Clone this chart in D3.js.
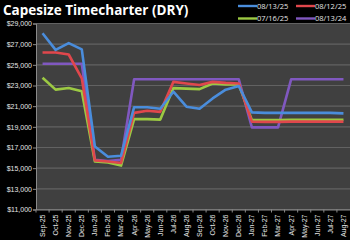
<!DOCTYPE html>
<html>
<head>
<meta charset="utf-8">
<script src="https://cdn.jsdelivr.net/npm/d3@7"></script>
<style>
  html, body { margin: 0; padding: 0; background: #000; }
  svg { display: block; font-family: "Open Sans", "Liberation Sans", sans-serif; }
</style>
</head>
<body>
<div id="chart"></div>
<script>
var months = ["Sep-25","Oct-25","Nov-25","Dec-25","Jan-26","Feb-26","Mar-26","Apr-26","May-26","Jun-26","Jul-26","Aug-26",
  "Sep-26","Oct-26","Nov-26","Dec-26","Jan-27","Feb-27","Mar-27","Apr-27","May-27","Jun-27","Jul-27","Aug-27"];

var s081325 = [28050,26450,27100,26500,17100,16100,16200,20900,20900,20750,22400,20950,20750,21750,22600,22950,20400,20350,20350,20350,20350,20350,20350,20300];
var s081225 = [26200,26200,26000,23700,15750,15650,15500,20350,20550,20450,23350,23200,23050,23350,23250,23200,19500,19480,19480,19500,19500,19500,19500,19500];
var s071625 = [23750,22600,22750,22450,15650,15550,15250,19750,19750,19700,22750,22700,22650,23200,23100,23100,19650,19650,19650,19670,19670,19680,19680,19680];
var s081324 = [25100,25100,25100,25100,15800,15700,15800,23600,23600,23600,23600,23600,23600,23600,23600,23600,18950,18950,18950,23600,23600,23600,23600,23600];

var seriesNames = ["08/13/25","08/12/25","07/16/25","08/13/24"];
var seriesColors = ["#4a8ddc","#e0474c","#9cc943","#8058c0"];
var yTicks = [11000,13000,15000,17000,19000,21000,23000,25000,27000,29000];

var width = 350, height = 240;
var plotLeft = 36, plotRight = 350, plotTop = 23.5, plotBottom = 209.5;

var svg = d3.select("#chart").append("svg")
  .attr("width", width).attr("height", height);

svg.append("rect").attr("width", width).attr("height", height).attr("fill", "#000");

var x = d3.scaleBand().domain(months).range([plotLeft, plotRight]);
var y = d3.scaleLinear().domain([11000, 29000]).range([plotBottom, plotTop]);

// plot area
svg.append("rect")
  .attr("x", plotLeft).attr("y", plotTop)
  .attr("width", plotRight - plotLeft).attr("height", plotBottom - plotTop)
  .attr("fill", "#404040");

// gridlines
svg.append("g")
  .selectAll("line")
  .data(yTicks)
  .enter()
  .append("line")
  .attr("x1", plotLeft).attr("x2", plotRight)
  .attr("y1", d => y(d)).attr("y2", d => y(d))
  .attr("stroke", "#626262")
  .attr("stroke-width", 1.2);

// y axis
var yaxis = d3.axisLeft(y).tickValues(yTicks).tickSize(3).tickFormat(d => "$" + d3.format(",")(d));
var gy = svg.append("g").attr("transform", "translate(" + plotLeft + ",0)").call(yaxis);
gy.select(".domain").attr("stroke", "#8a8a8a");
gy.selectAll(".tick line").attr("stroke", "#8a8a8a");
gy.selectAll("text").attr("fill", "#e6e6e6").style("font-size", "7px").attr("x", -4);

// x axis
var xaxis = d3.axisBottom(x).tickSize(0).tickSizeOuter(0);
var gx = svg.append("g").attr("transform", "translate(0," + plotBottom + ")").call(xaxis);
gx.select(".domain").attr("stroke", "#8a8a8a");
gx.selectAll("text")
  .attr("fill", "#e6e6e6")
  .style("font-size", "7px")
  .style("text-anchor", "end")
  .attr("transform", "rotate(-90)")
  .attr("x", -5).attr("y", 0).attr("dy", "0.35em");
// ticks at band boundaries
svg.append("g")
  .selectAll("line")
  .data(months)
  .enter()
  .append("line")
  .attr("x1", d => x(d)).attr("x2", d => x(d))
  .attr("y1", plotBottom).attr("y2", plotBottom + 3)
  .attr("stroke", "#8a8a8a");

// lines
var allSeries = [s081325, s081225, s071625, s081324];
var line = d3.line()
  .x((d, i) => x(months[i]) + x.bandwidth() / 2)
  .y(d => y(d));

var drawOrder = [3, 2, 1, 0];
drawOrder.forEach(function (k) {
  svg.append("path")
    .datum(allSeries[k])
    .attr("d", line)
    .attr("fill", "none")
    .attr("stroke", seriesColors[k])
    .attr("stroke-width", 2.6)
    .attr("stroke-linejoin", "round");
});

// title
svg.append("text")
  .attr("x", 3).attr("y", 15)
  .attr("fill", "#fff")
  .style("font-size", "13.5px")
  .style("font-weight", "bold")
  .text("Capesize Timecharter (DRY)");

// legend
var legendPos = [[238, 6], [296, 6], [238, 18.5], [296, 18.5]];
seriesNames.forEach(function (name, k) {
  var p = legendPos[k];
  svg.append("line")
    .attr("x1", p[0]).attr("x2", p[0] + 19)
    .attr("y1", p[1]).attr("y2", p[1])
    .attr("stroke", seriesColors[k])
    .attr("stroke-width", 2.4);
  svg.append("text")
    .attr("x", p[0] + 19).attr("y", p[1]).attr("dy", "0.35em")
    .attr("fill", "#e6e6e6")
    .style("font-size", "7.5px")
    .text(name);
});
</script>
</body>
</html>
